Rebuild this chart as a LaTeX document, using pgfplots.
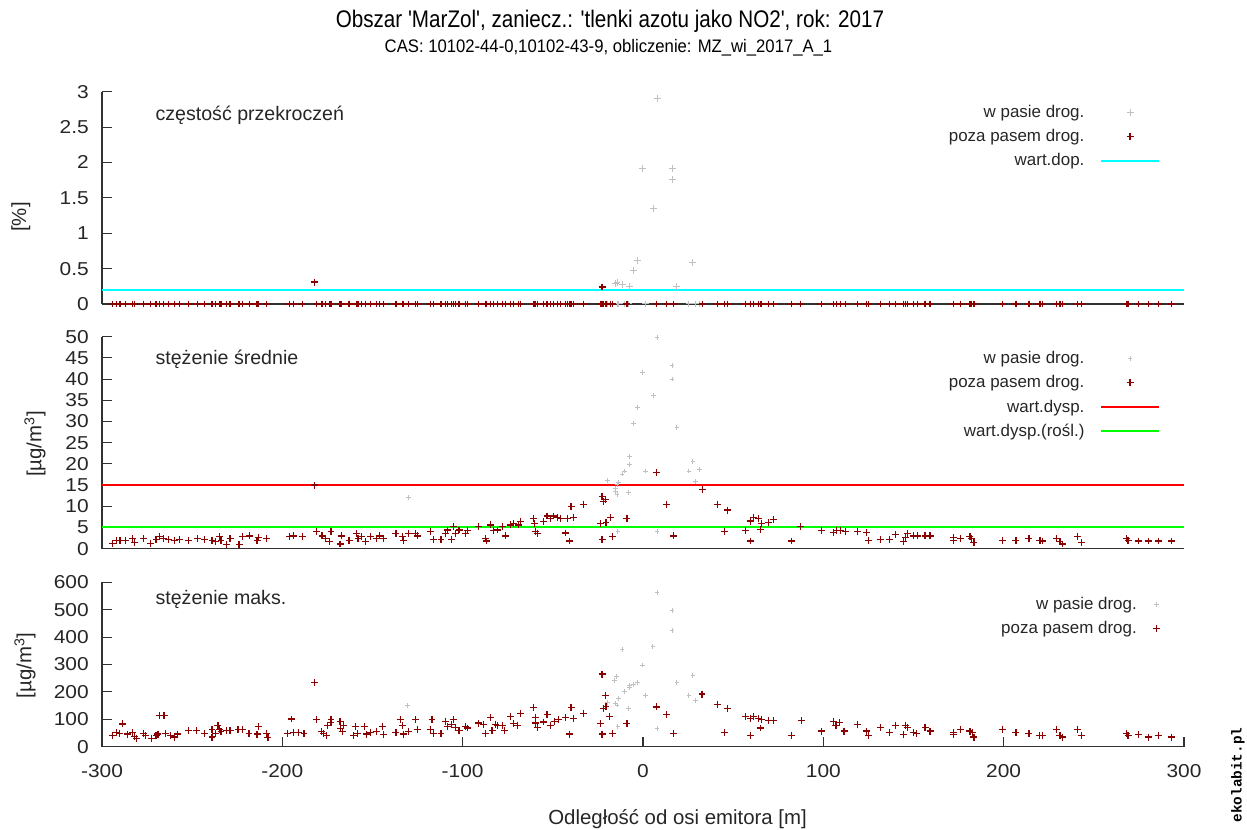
\documentclass[border=0pt]{standalone}
\usepackage{pgfplots}
\pgfplotsset{compat=1.18}
\usepackage{fontspec}
\setmainfont{Liberation Sans}[Ligatures=TeXOff]
\newfontfamily\tickf{Liberation Sans}[FakeStretch=1.12]
\newfontfamily\ttlf{Liberation Sans}[FakeStretch=0.86, Ligatures=TeXOff]
\newfontfamily\subf{Liberation Sans}[FakeStretch=0.92, Ligatures=TeXOff]
\newfontfamily\wmf{Liberation Mono}[Ligatures=TeXOff]
\definecolor{dred}{RGB}{139,0,0}
\definecolor{lgray}{RGB}{192,192,192}
\definecolor{axc}{RGB}{50,50,50}
\definecolor{cyanl}{RGB}{0,255,255}
\definecolor{redl}{RGB}{255,0,0}
\definecolor{greenl}{RGB}{0,255,0}

% ---------- data ----------
\pgfplotstableread{
x y
-294 0
-292 0
-290 0
-287 0
-283 0
-282 0
-277 0
-273 0
-270 0
-268 0
-266 0
-263 0
-260 0
-257 0
-252 0
-247 0
-243 0
-239 0
-237 0
-235 0
-234 0
-231 0
-229 0
-224 0
-222 0
-218 0
-214 0
-213 0
-209 0
-196 0
-194 0
-189 0
-182 0.31
-181 0
-178 0
-176 0
-174 0
-173 0
-168 0
-167 0
-163 0
-159 0
-158 0
-156 0
-154 0
-151 0
-148 0
-146 0
-144 0
-137 0
-133.5 0
-132.6 0
-130 0
-126 0
-125 0
-118 0
-116 0
-112 0
-109.5 0
-108.6 0
-106 0
-105 0
-104 0
-102 0
-98.5 0
-97.5 0
-91 0
-87.4 0
-86.8 0
-84.6 0
-82.8 0
-80.9 0
-78 0
-76.3 0
-73.5 0
-71.7 0
-68.9 0
-68 0
-60.6 0
-60.2 0
-59.7 0
-58.7 0
-55 0
-53.2 0
-51.4 0
-49.5 0
-47.6 0
-45.8 0
-43 0
-42 0
-40.8 0
-39.9 0
-38.4 0
-32.9 0
-23.7 0
-22.7 0.24
-21.8 0
-20.9 0
-22.7 0
-20.5 0
-18.1 0
-16.8 0
-8.9 0
7.4 0
12.9 0
17 0
32.9 0
41.5 0
45.2 0
46.9 0
57 0
59.4 0
59.8 0
61.3 0
64 0
65 0
65.9 0
69.6 0
72.4 0
82.5 0
87.5 0
99.2 0
105.6 0
107.5 0
109.3 0
112.1 0
118.9 0
124.1 0
125 0
131.5 0
136.6 0
140.2 0
144.4 0
145.7 0
146.6 0
149.9 0
152.1 0
156.4 0
159.2 0
172.1 0
176.2 0
181.3 0
182.3 0
183.5 0
199.2 0
206.8 0
214 0
220.1 0
221.6 0
229.4 0
231.2 0
232.7 0
240.8 0
243.2 0
268.1 0
269 0
274.6 0
280.1 0
285.7 0
293.1 0
}\topred

\pgfplotstableread{
x y
7.8 2.90
-0.2 1.91
16.1 1.91
16.1 1.76
5.9 1.35
-3.2 0.62
-5.4 0.47
27.7 0.58
-15.3 0.29
-14.4 0.31
-11.6 0.27
-7.4 0.25
18.8 0.25
-19.9 0
-13.9 0
-13.5 0
-10.4 0
-8.1 0
1.5 0
25.5 0
29.2 0
31.4 0
-130 0
}\topgray

\pgfplotstableread{
x y
-294 1.3
-292 2.0
-290 2.0
-287 1.9
-283 2.4
-282 1.4
-277 2.4
-273 1.3
-270 2.2
-268 2.8
-266 2.4
-263 2.2
-260 2.0
-257 2.2
-252 1.9
-247 2.4
-243 2.2
-239 2.0
-237 1.6
-235 2.8
-234 2.0
-231 0.9
-229 2.4
-224 0.9
-222 2.8
-218 3.0
-214 2.0
-213 2.6
-209 2.4
-196 2.8
-194 3.0
-189 2.8
-182 15.0
-181 4.0
-178 3.0
-176 2.4
-174 1.6
-173 4.0
-168 1.1
-167 3.0
-163 2.0
-159 3.6
-158 2.4
-156 2.8
-154 1.6
-151 2.8
-148 2.4
-146 3.0
-144 2.4
-137 3.6
-133.5 2.8
-132.6 2.0
-130 3.6
-126 3.6
-125 3.0
-118 4.0
-116 2.2
-112 2.2
-109.5 3.6
-108.6 4.4
-106 2.2
-105 5.2
-104 3.6
-102 4.4
-98.5 3.6
-97.5 4.2
-91 5.2
-87.4 2.4
-86.8 1.8
-84.6 5.6
-82.8 4.2
-80.9 4.4
-78 5.2
-76.3 3.0
-73.5 5.6
-71.7 5.9
-68.9 5.6
-68 6.4
-60.6 7.2
-60.2 5.9
-59.7 4.0
-58.7 3.6
-55 6.4
-53.2 7.7
-51.4 7.2
-49.5 7.7
-47.6 7.4
-45.8 7.2
-43 3.7
-42 7.2
-40.8 1.8
-39.9 9.9
-38.4 7.4
-32.9 10.5
-23.7 5.9
-22.7 12.3
-21.8 11.1
-20.9 11.6
-22.7 2.2
-20.5 6.2
-18.1 7.4
-16.8 2.8
-8.9 7.2
7.4 18.0
12.9 10.5
17 3.0
32.9 14.0
41.5 10.5
45.2 4.0
46.9 9.1
57 4.2
59.4 6.5
59.8 1.8
61.3 7.4
64 7.2
65 4.6
65.9 5.9
69.6 6.2
72.4 6.8
82.5 1.8
87.5 5.2
99.2 4.2
105.6 3.8
107.5 4.2
109.3 4.2
112.1 4.0
118.9 4.0
124.1 3.8
125 2.0
131.5 2.2
136.6 2.2
140.2 3.4
144.4 1.6
145.7 2.6
146.6 3.6
149.9 3.0
152.1 3.0
156.4 3.0
159.2 3.0
172.1 2.6
172.1 2.0
176.2 2.4
181.3 2.8
182.3 2.4
183.5 1.4
199.2 2.0
206.8 2.0
214 2.4
220.1 2.0
221.6 1.8
229.4 2.4
231.2 1.6
232.7 1.1
240.8 2.8
243.2 1.4
268.1 2.4
269 2.0
274.6 1.8
280.1 1.8
285.7 1.8
293.1 1.8
}\midred

\pgfplotstableread{
x y
7.8 49.8
16.1 43.2
16.1 40.0
-0.2 41.6
5.9 36.2
-3.0 33.3
-5.2 29.5
18.8 28.5
-7.4 21.7
-7.4 19.9
-10.4 18.3
-11.6 17.6
1.5 18.3
27.7 20.5
25.5 18.3
31.4 18.6
29.2 15.8
-19.9 16.1
-13.5 15.6
-14.4 15.2
-15.3 14.2
-15.3 13.4
-14.4 12.7
-8.1 13.3
-13.9 4.0
7.8 4.0
-130 12.0
}\midgray

\pgfplotstableread{
x y
-294 40
-292 51
-290.5 47
-288.6 83
-286 46
-283 51
-282 37
-281 29
-277 47
-276 40
-272.6 29
-270 40
-269 46
-268 115
-265.6 115
-264.7 48
-262 40
-260 35
-258 46
-252 60
-247.6 58
-243 48
-239 63
-239 35
-237 47
-235.7 76
-235 64
-234 55
-231 58
-229 58
-224.6 64
-222 62
-218.5 48
-214 46
-213 73
-209 47
-208 33
-197 48
-195 101
-194 51
-191 51
-188 47
-182 235
-181 100
-178.4 55
-177 47
-175.5 40
-175 77
-173 89
-173 100
-168 93
-167.7 67
-166.8 55
-166 76
-160.7 40
-159.4 73
-158.4 48
-154.4 73
-153.3 46
-151 51
-148 55
-144.6 74
-143.7 43
-137 52
-134.5 100
-133.5 77
-132.6 46
-130 55
-126 98
-125 64
-117 100
-118 64
-116 47
-112 49
-109.5 93
-108.6 73
-106 82
-105 100
-104 71
-102 58
-98.5 73
-97.5 68
-91 86
-88.3 82
-87.4 47
-84.6 107
-83.7 60
-81.8 82
-80.5 78
-78 76
-76.7 59
-73.5 110
-71.7 84
-69.8 78
-68 120
-60.6 144
-59.7 107
-59.7 86
-58.7 70
-55 90
-53.2 117
-51.4 76
-49.1 93
-46.8 100
-43 107
-40.7 46
-39.9 144
-38.4 103
-33.2 120
-23.7 84
-22.7 46
-22.7 265
-20.9 186
-21.8 140
-20.5 146
-18.5 110
-16.8 49
-8.9 84
7.4 145
12.9 117
17 49
32.7 192
41.5 155
45.2 52
46.9 140
57 110
59.4 103
59.8 42
61.3 110
64 104
65 68
65.9 100
69.6 96
72.4 96
82.5 42
87.7 96
99.2 57
105.6 91
107 77
109 88
111.5 57
118.9 82
124.1 57
125 40
131.9 71
136.6 51
140.2 77
144.4 44
145.7 77
146.6 71
149.9 51
151.8 47
156.4 71
159.2 57
172.1 51
172.1 44
176.2 64
181.3 57
182.8 51
183.5 35
199.2 64
206.8 51
214 49
219.7 40
221.6 42
229.4 64
231.2 40
232.7 35
240.8 64
243.2 40
268.1 49
269 40
274.6 44
280.1 35
285.7 40
293.1 35
}\botred

\pgfplotstableread{
x y
7.8 563
16.1 496
16.1 423
5.5 365
-11.6 355
-0.2 298
-14.8 255
-15.7 242
27.7 259
18.8 235
-3.0 235
-5.2 228
-7.4 225
-7.4 217
-10.4 201
-13.5 177
-15.3 158
-14.4 152
-19.9 162
1.5 186
25.5 186
29.2 168
-8.1 140
-13.9 73
7.8 67
-130.4 149
}\botgray

\pgfplotsset{
  panel/.style={
    scale only axis, width=811.5pt,
    xmin=-300, xmax=300,
    axis lines*=left,
    axis line style={axc, line width=0.8pt},
    tick align=inside, major tick length=7.5pt,
    tick style={axc, line width=0.8pt},
    clip=false,
    tick label style={font=\tickf\fontsize{14}{14}\selectfont, text=black!85},
    yticklabel style={anchor=east, inner sep=0pt, xshift=-9.75pt},
    xticklabel style={anchor=north, inner sep=0pt, yshift=-13.5pt},
    label style={font=\fontsize{15.3}{16}\selectfont, text=black!85},
    ylabel style={anchor=center, rotate=0},
    legend plot pos=right,
    legend cell align=right,
    legend image code/.code={\draw[mark repeat=2,mark phase=2,##1] plot coordinates {(0pt,0pt) (21.5pt,0pt) (43pt,0pt)};},
    legend style={draw=none, fill=none, at={(1,1)}, anchor=north east,
      xshift=-18pt, inner sep=0pt, row sep=7.4pt, column sep=12pt,
      nodes={inner sep=0pt},
      font=\fontsize{12.7}{14}\selectfont, text=black!85},
  },
  redpts/.style={only marks, mark=+, color=dred, mark size=2.6pt, mark options={line width=0.9pt}},
  graybig/.style={only marks, mark=+, color=lgray, mark size=2.6pt, mark options={line width=0.75pt}},
  graysmall/.style={only marks, mark=+, color=lgray, mark size=1.8pt, mark options={line width=0.75pt}},
}

\begin{document}
\begin{tikzpicture}
\useasboundingbox (0,0) rectangle (935.25pt,622.5pt);

% titles
\node[anchor=base, font=\ttlf\fontsize{18}{20}\selectfont] at (457.5pt,601.5pt) {Obszar 'MarZol', zaniecz.: 'tlenki azotu jako NO2', rok: 2017};
\node[anchor=base, font=\subf\fontsize{13.6}{15}\selectfont] at (456.4pt,582.75pt) {CAS: 10102-44-0,10102-43-9, obliczenie: MZ\_wi\_2017\_A\_1};

% top panel
\begin{axis}[panel, at={(76.5pt,394.5pt)}, anchor=south west, height=159.2pt,
  ymin=0, ymax=3, ytick={0,0.5,1,1.5,2,2.5,3}, yticklabels={0,0.5,1,1.5,2,2.5,3},
  xtick=\empty,
  ylabel={[\%]}, ylabel style={at={(axis description cs:-0.0749,0.41)}},
  legend style={yshift=-10pt}]
\addplot[graybig] table[x=x,y=y] {\topgray};
\addlegendentry{w pasie drog.}
\addplot[redpts] table[x=x,y=y] {\topred};
\addlegendentry{poza pasem drog.}
\addplot[color=cyanl, line width=1.5pt] coordinates {(-300,0.2) (300,0.2)};
\addlegendentry{wart.dop.}
\end{axis}

% middle panel
\begin{axis}[panel, at={(76.5pt,211pt)}, anchor=south west, height=159pt,
  ymin=0, ymax=50, ytick={0,5,10,15,20,25,30,35,40,45,50},
  yticklabels={0,5,10,15,20,25,30,35,40,45,50},
  xtick=\empty,
  ylabel={[µg/m\textsuperscript{3}]}, ylabel style={at={(axis description cs:-0.0619,0.494)}},
  legend style={yshift=-11pt}]
\addplot[graysmall] table[x=x,y=y] {\midgray};
\addlegendentry{w pasie drog.}
\addplot[redpts] table[x=x,y=y] {\midred};
\addlegendentry{poza pasem drog.}
\addplot[color=redl, line width=1.5pt] coordinates {(-300,15) (300,15)};
\addlegendentry{wart.dysp.}
\addplot[color=greenl, line width=1.5pt] coordinates {(-300,5) (300,5)};
\addlegendentry{wart.dysp.(rośl.)}
\end{axis}

% bottom panel
\begin{axis}[panel, at={(76.5pt,62.5pt)}, anchor=south west, height=123.3pt,
  ymin=0, ymax=600, ytick={0,100,200,300,400,500,600},
  yticklabels={0,100,200,300,400,500,600},
  xtick={-300,-200,-100,0,100,200,300},
  xticklabels={-300,-200,-100,0,100,200,300},
  ylabel={[µg/m\textsuperscript{3}]}, ylabel style={at={(axis description cs:-0.0712,0.494)}},
  xlabel={Odległość od osi emitora [m]}, xlabel style={at={(axis description cs:0.532,-0.44)}, anchor=center},
  legend style={yshift=-11pt}]
\addplot[graysmall] table[x=x,y=y] {\botgray};
\addlegendentry{w pasie drog.}
\addplot[redpts] table[x=x,y=y] {\botred};
\addlegendentry{poza pasem drog.}
\end{axis}

% panel captions
\node[anchor=base west, inner sep=0pt, font=\fontsize{14.7}{16}\selectfont, text=black!85] at (116.5pt,531.75pt) {częstość przekroczeń};
\node[anchor=base west, inner sep=0pt, font=\fontsize{14.7}{16}\selectfont, text=black!85] at (116.5pt,348.75pt) {stężenie średnie};
\node[anchor=base west, inner sep=0pt, font=\fontsize{14.7}{16}\selectfont, text=black!85] at (116.5pt,168.75pt) {stężenie maks.};

% watermark
\node[rotate=90, font=\wmf\bfseries\fontsize{10.8}{12}\selectfont] at (928.5pt,41.25pt) {ekolabit.pl};
\end{tikzpicture}
\end{document}
